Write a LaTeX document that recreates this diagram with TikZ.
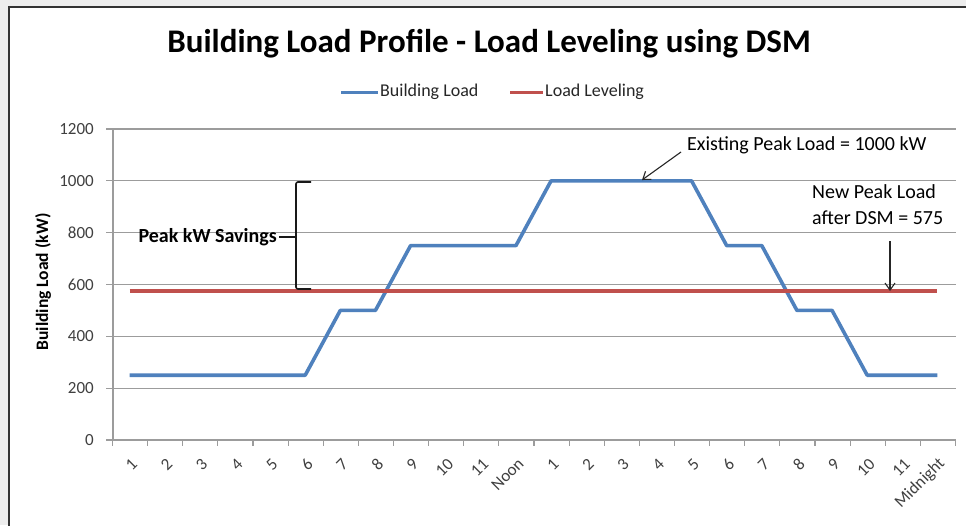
\documentclass[tikz,border=0pt]{standalone}
\usepackage{fontspec}
\setmainfont{Carlito}
\usetikzlibrary{arrows.meta}
\definecolor{bload}{HTML}{4F81BD}
\definecolor{lvl}{HTML}{C0504D}
\definecolor{gridc}{HTML}{9C9C9C}
\definecolor{outbg}{HTML}{EDEDED}
\definecolor{axlab}{HTML}{404040}
\begin{document}
\begin{tikzpicture}[x=1pt,y=-1pt,
  declare function={cx(\i)=112+(\i-0.5)*35.125; vy(\v)=440-\v*0.259167;},
  ticklab/.style={font=\fontsize{17}{20}\selectfont, text=axlab, inner sep=0pt},
  legtext/.style={font=\fontsize{18}{21}\selectfont, text=black!85, inner sep=0pt, anchor=west},
  ann/.style={font=\fontsize{20}{26}\selectfont, inner sep=0pt},
  gridline/.style={draw=gridc, line width=1.2pt},
  series/.style={line width=3.6pt, line join=round, line cap=butt},
  callout/.style={draw=black!85, line width=1.1pt, -{Straight Barb[length=7pt,width=10pt,line width=1.1pt]}}]
\useasboundingbox (0,0) rectangle (966,525);
\clip (0,0) rectangle (966,525);
% background and frame
\fill[outbg] (0,0) rectangle (966,525);
\draw[line width=2pt, draw=black!80, fill=white] (9,7) rectangle (985,545);
% title
\node[font=\fontsize{33}{38}\selectfont\bfseries, inner sep=0pt, anchor=base] (title) at (489,52) {Building Load Profile - Load Leveling using DSM};
% legend
\coordinate (lb1) at (341,92); \coordinate (lb2) at (378,92);
\draw[series, draw=bload, line width=3pt] (lb1) -- (lb2);
\node[legtext] (legb) at (380,92) {Building Load};
\coordinate (lr1) at (510,92); \coordinate (lr2) at (543,92);
\draw[series, draw=lvl, line width=3pt] (lr1) -- (lr2);
\node[legtext] (legr) at (545,92) {Load Leveling};
% grid and y labels
\foreach \v in {200,400,...,1200}{
  \draw[gridline] (106,{vy(\v)}) -- (956,{vy(\v)});
  \node[ticklab, anchor=east] (yl\v) at (94,{vy(\v)}) {\v};
}
\node[ticklab, anchor=east] (yl0) at (94,440) {0};
% axes
\draw[gridline] (113,{vy(1200)}) -- (113,440);
\draw[gridline] (106,440) -- (955.5,440);
\foreach \k in {0,...,24}{
  \draw[gridline] ({112.5+\k*35.125},440) -- ++(0,6);
}
% x labels
\foreach \l [count=\i] in {1,2,3,4,5,6,7,8,9,10,11,Noon,1,2,3,4,5,6,7,8,9,10,11,Midnight}{
  \node[ticklab, rotate=45, anchor=east] (xl\i) at ({cx(\i)+5},461) {\l};
}
% y axis title
\node[font=\fontsize{17.5}{20}\selectfont\bfseries, rotate=90, inner sep=0pt] (ytitle) at (43,282) {Building Load (kW)};
% series
\draw[series, draw=bload] ({cx(1)},{vy(250)}) -- ({cx(6)},{vy(250)}) -- ({cx(7)},{vy(500)}) -- ({cx(8)},{vy(500)})
  -- ({cx(9)},{vy(750)}) -- ({cx(12)},{vy(750)}) -- ({cx(13)},{vy(1000)}) -- ({cx(17)},{vy(1000)})
  -- ({cx(18)},{vy(750)}) -- ({cx(19)},{vy(750)}) -- ({cx(20)},{vy(500)}) -- ({cx(21)},{vy(500)})
  -- ({cx(22)},{vy(250)}) -- ({cx(24)},{vy(250)});
\draw[series, draw=lvl] ({cx(1)},{vy(575)}) -- ({cx(24)},{vy(575)});
% peak savings bracket
\node[font=\fontsize{20}{24}\selectfont\bfseries, inner sep=0pt, anchor=east] (sav) at (277,237) {Peak kW Savings};
\coordinate (brTop) at (311,182);
\coordinate (brBot) at (311,289);
\coordinate (brMid) at (296,237);
\draw[line width=1.6pt, draw=black!90, rounded corners=2pt] (brTop) -| (brMid) |- (brBot);
\draw[line width=1.6pt, draw=black!90] (sav.east) ++(2,0) -- (brMid);
% existing peak callout
\node[ann, anchor=west] (exist) at (687,145) {Existing Peak Load = 1000 kW};
\coordinate (exStart) at (681,152);
\coordinate (exTip) at (642,180);
\draw[callout] (exStart) -- (exTip);
% new peak callout
\node[ann, anchor=base west, align=left] (newpk) at (812,224) {New Peak Load\\after DSM = 575};
\coordinate (npStart) at (890,241);
\coordinate (npTip) at (890,291);
\draw[callout] (npStart) -- (npTip);
\end{tikzpicture}
\end{document}
